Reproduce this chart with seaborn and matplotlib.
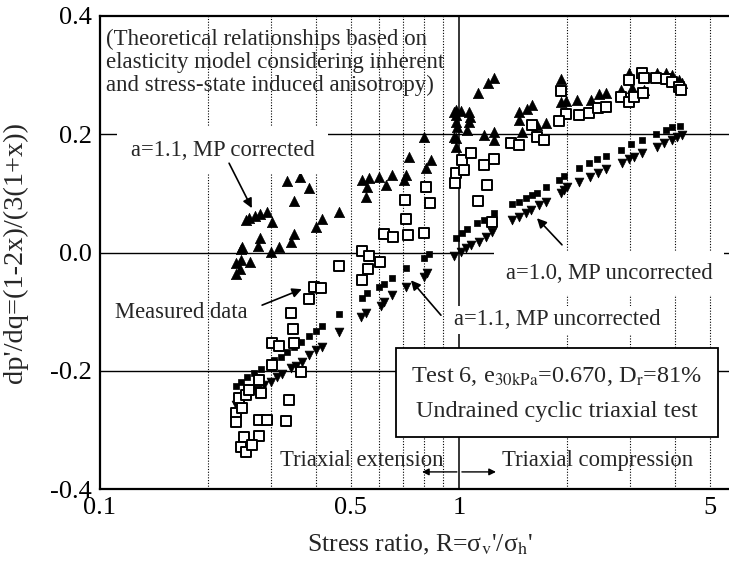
import matplotlib
matplotlib.use("Agg")
from matplotlib import pyplot as plt
from matplotlib.patches import Rectangle
from matplotlib.ticker import FixedLocator, NullFormatter, MultipleLocator
import seaborn as sns
import pandas as pd

# a=1.1, MP corrected (filled up-triangles)
up_x = [0.239, 0.239, 0.247, 0.245, 0.262, 0.249, 0.247, 0.255, 0.260, 0.270,
        0.279, 0.292, 0.301, 0.275, 0.279, 0.299, 0.315, 0.340, 0.347, 0.400,
        0.415, 0.463, 0.332, 0.361, 0.382, 0.347, 0.537, 0.551, 0.554, 0.562,
        0.599, 0.626, 0.651, 0.712, 0.703, 0.726, 0.809, 0.836, 0.799, 0.968,
        0.981, 0.968, 0.981, 0.981, 1.013, 1.066, 1.073, 1.066, 0.981, 0.987,
        1.052, 0.981, 1.174, 1.251, 1.251, 1.130, 1.205, 1.251, 1.469, 1.469,
        1.546, 1.597, 1.497, 1.649, 1.747, 1.923, 1.923, 1.987, 2.131, 2.331,
        2.455, 2.566, 2.826, 2.977, 3.034, 3.275, 3.213, 3.562, 3.776, 3.919,
        4.101, 4.180]
up_y = [-0.018, -0.036, -0.013, -0.028, -0.016, 0.009, 0.006, 0.055, 0.058, 0.062,
        0.065, 0.068, 0.052, 0.011, 0.025, 0.001, 0.009, 0.018, 0.031, 0.043,
        0.057, 0.068, 0.121, 0.128, 0.109, 0.087, 0.123, 0.094, 0.111, 0.126,
        0.128, 0.114, 0.131, 0.131, 0.123, 0.162, 0.143, 0.156, 0.195, 0.237,
        0.221, 0.195, 0.178, 0.241, 0.239, 0.237, 0.229, 0.221, 0.233, 0.212,
        0.207, 0.194, 0.199, 0.204, 0.190, 0.270, 0.287, 0.295, 0.237, 0.224,
        0.243, 0.249, 0.204, 0.216, 0.219, 0.293, 0.255, 0.256, 0.258, 0.258,
        0.268, 0.270, 0.275, 0.304, 0.278, 0.275, 0.304, 0.304, 0.304, 0.300,
        0.292, 0.287]

# measured data (open squares)
meas_x = [0.239, 0.239, 0.249, 0.244, 0.255, 0.260, 0.277, 0.281, 0.301, 0.301,
          0.315, 0.347, 0.345, 0.340, 0.382, 0.394, 0.413, 0.363, 0.336, 0.330,
          0.277, 0.292, 0.252, 0.277, 0.247, 0.255, 0.265,
          0.463, 0.537, 0.562, 0.602, 0.558, 0.537, 0.618, 0.655, 0.721, 0.799,
          0.712, 0.707, 0.830, 0.809, 0.975, 0.981, 1.033, 1.019, 1.080, 1.174,
          1.251, 1.197, 1.130, 1.236, 1.396, 1.469, 1.597, 1.649, 1.725, 1.923,
          1.987, 1.898, 2.158, 2.301, 2.439, 2.566, 2.826, 2.977, 3.071, 3.258,
          2.977, 3.236, 3.275, 3.537, 3.776, 3.919, 4.101, 4.150]
meas_y = [-0.271, -0.287, -0.263, -0.246, -0.241, -0.233, -0.216, -0.238, -0.190, -0.153,
          -0.158, -0.153, -0.129, -0.102, -0.079, -0.058, -0.060, -0.202, -0.249, -0.285,
          -0.283, -0.283, -0.312, -0.310, -0.329, -0.337, -0.326,
          -0.023, 0.003, -0.006, -0.016, -0.028, -0.047, 0.031, 0.026, 0.030, 0.033,
          0.057, 0.089, 0.084, 0.111, 0.118, 0.134, 0.140, 0.156, 0.168, 0.148,
          0.158, 0.114, 0.087, 0.052, 0.185, 0.182, 0.216, 0.195, 0.190, 0.273,
          0.234, 0.222, 0.233, 0.236, 0.244, 0.246, 0.263, 0.255, 0.263, 0.270,
          0.292, 0.304, 0.295, 0.295, 0.293, 0.288, 0.280, 0.275]

# a=1.0, MP uncorrected (small filled squares)
sq_x = [0.239, 0.247, 0.257, 0.269, 0.281, 0.296, 0.306, 0.319, 0.332, 0.347,
        0.363, 0.382, 0.400, 0.415, 0.463, 0.537, 0.554, 0.599, 0.618, 0.651,
        0.712, 0.799, 0.825, 0.981, 1.019, 1.052, 1.122, 1.174, 1.251, 1.405,
        1.469, 1.537, 1.597, 1.649, 1.747, 1.898, 1.961, 2.158, 2.301, 2.424,
        2.566, 2.826, 3.013, 3.236, 3.538, 3.776, 3.919, 4.127]
sq_y = [-0.226, -0.219, -0.211, -0.204, -0.197, -0.187, -0.182, -0.177, -0.168, -0.160,
        -0.151, -0.141, -0.133, -0.124, -0.104, -0.077, -0.068, -0.058, -0.053, -0.043,
        -0.026, -0.009, -0.003, 0.025, 0.033, 0.040, 0.050, 0.055, 0.067, 0.082,
        0.085, 0.092, 0.097, 0.101, 0.111, 0.123, 0.129, 0.143, 0.151, 0.158,
        0.163, 0.173, 0.184, 0.190, 0.200, 0.207, 0.212, 0.214]

# a=1.1, MP uncorrected (filled down-triangles)
dn_x = [0.239, 0.247, 0.260, 0.274, 0.286, 0.299, 0.311, 0.321, 0.340, 0.351,
        0.365, 0.382, 0.400, 0.415, 0.463, 0.533, 0.551, 0.607, 0.618, 0.651,
        0.712, 0.799, 0.814, 0.968, 1.013, 1.046, 1.080, 1.137, 1.189, 1.236,
        1.405, 1.469, 1.537, 1.587, 1.670, 1.747, 1.923, 1.961, 2.000, 2.158,
        2.317, 2.439, 2.566, 2.845, 2.977, 3.071, 3.236, 3.562, 3.726, 3.919,
        4.048, 4.180]
dn_y = [-0.258, -0.249, -0.241, -0.233, -0.224, -0.219, -0.211, -0.205, -0.195, -0.192,
        -0.185, -0.173, -0.165, -0.160, -0.135, -0.109, -0.102, -0.090, -0.084, -0.072,
        -0.058, -0.041, -0.035, -0.006, 0.001, 0.008, 0.013, 0.018, 0.026, 0.035,
        0.055, 0.060, 0.067, 0.072, 0.080, 0.085, 0.101, 0.106, 0.111, 0.119,
        0.128, 0.134, 0.141, 0.151, 0.158, 0.162, 0.168, 0.178, 0.185, 0.190,
        0.195, 0.199]

x_ticks = [0.1, 0.5, 1, 5]
x_tick_labels = ["0.1", "0.5", "1", "5"]
x_grid = [0.2, 0.3, 0.4, 0.5, 0.6, 0.7, 0.8, 0.9, 2, 3, 4, 5]

sns.set_style("white")
plt.rcParams["font.family"] = ["Liberation Serif", "DejaVu Serif"]
plt.rcParams["mathtext.fontset"] = "stix"

fig = plt.figure(figsize=(7.29, 5.70), dpi=100)
ax = fig.add_axes([0.137, 0.142, 0.863, 0.830])
ax.set_xscale("log")
ax.set_xlim(0.1, 5.65)
ax.set_ylim(-0.4, 0.4)

# reference lines
for gx in x_grid:
    ax.axvline(gx, color="black", ls=(0, (1, 1.5)), lw=0.8, zorder=1)
ax.axvline(1, color="black", lw=1.1, zorder=1)
for gy in [-0.2, 0.0, 0.2]:
    ax.axhline(gy, color="black", lw=1.0, zorder=1)

sns.scatterplot(data=pd.DataFrame({"R": up_x, "d": up_y}), x="R", y="d", ax=ax,
                marker="^", s=55, color="black", edgecolor="black", linewidth=0.5, zorder=3)
sns.scatterplot(data=pd.DataFrame({"R": sq_x, "d": sq_y}), x="R", y="d", ax=ax,
                marker="s", s=22, color="black", edgecolor="black", linewidth=0.5, zorder=3)
sns.scatterplot(data=pd.DataFrame({"R": dn_x, "d": dn_y}), x="R", y="d", ax=ax,
                marker="v", s=40, color="black", edgecolor="black", linewidth=0.5, zorder=3)
sns.scatterplot(data=pd.DataFrame({"R": meas_x, "d": meas_y}), x="R", y="d", ax=ax,
                marker="s", s=62, color="white", edgecolor="black", linewidth=1.4, zorder=4)

# axes styling
for side in ["left", "top", "bottom"]:
    ax.spines[side].set_linewidth(1.6)
    ax.spines[side].set_color("black")
ax.spines["right"].set_visible(False)

ax.xaxis.set_major_locator(FixedLocator(x_ticks))
ax.set_xticklabels(x_tick_labels)
ax.xaxis.set_minor_locator(FixedLocator([0.2, 0.3, 0.4, 0.6, 0.7, 0.8, 0.9, 2, 3, 4]))
ax.xaxis.set_minor_formatter(NullFormatter())
ax.yaxis.set_major_locator(MultipleLocator(0.2))
ax.yaxis.set_minor_locator(MultipleLocator(0.1))
ax.set_yticklabels([f"{v:.1f}" for v in ax.get_yticks()])
ax.tick_params(which="both", direction="in", labelsize=19, top=False, right=False,
               width=1.0, colors="black")
ax.tick_params(which="major", length=7, pad=6)
ax.tick_params(which="minor", length=6)

ax.set_xlabel(r"Stress ratio, R=σ$_\mathrm{v}$'/σ$_\mathrm{h}$'", fontsize=18.5)
ax.set_ylabel("dp'/dq=(1-2x)/(3(1+x))", fontsize=20.5)
ax.xaxis.set_label_coords(0.509, -0.093)
ax.yaxis.set_label_coords(-0.114, 0.5)

# annotations
ax.text(0.104, 0.378,
        "(Theoretical relationships based on\nelasticity model considering inherent\nand stress-state induced anisotropy)",
        fontsize=16.5, ha="left", va="top", linespacing=1.12, zorder=5)

arrow = dict(arrowstyle="-|>", color="black", lw=1.2, mutation_scale=14, shrinkA=0, shrinkB=0)
ax.text(0.220, 0.173, "a=1.1, MP corrected", fontsize=16.3, ha="center", va="center",
        bbox=dict(boxstyle="square,pad=0.6", fc="white", ec="none"), zorder=5)
ax.annotate("", xy=(0.265, 0.075), xytext=(0.229, 0.151), arrowprops=arrow, zorder=5)

ax.text(0.169, -0.101, "Measured data", fontsize=16.3, ha="center", va="center", zorder=5)
ax.annotate("", xy=(0.365, -0.062), xytext=(0.283, -0.089), arrowprops=arrow, zorder=5)

ax.text(1.875, -0.114, "a=1.1, MP uncorrected", fontsize=16.3, ha="center", va="center",
        bbox=dict(boxstyle="square,pad=0.15", fc="white", ec="none"), zorder=5)
ax.annotate("", xy=(0.735, -0.047), xytext=(0.891, -0.106), arrowprops=arrow, zorder=5)

ax.text(2.617, -0.035, "a=1.0, MP uncorrected", fontsize=16.3, ha="center", va="center",
        bbox=dict(boxstyle="square,pad=0.5", fc="white", ec="none"), zorder=5)
ax.annotate("", xy=(1.649, 0.058), xytext=(1.936, 0.013), arrowprops=arrow, zorder=5)

ax.text(0.908, -0.351, "Triaxial extension", fontsize=16.3, ha="right", va="center", zorder=5)
ax.text(1.318, -0.351, "Triaxial compression", fontsize=16.3, ha="left", va="center", zorder=5)
small_arrow = dict(arrowstyle="-|>", color="black", lw=1.0, mutation_scale=10, shrinkA=0, shrinkB=0)
ax.annotate("", xy=(0.789, -0.371), xytext=(0.987, -0.371), arrowprops=small_arrow, zorder=5)
ax.annotate("", xy=(1.268, -0.371), xytext=(1.019, -0.371), arrowprops=small_arrow, zorder=5)

# info box
ax.add_patch(Rectangle((0.4706, 0.110), 0.512, 0.188, transform=ax.transAxes,
                       facecolor="white", edgecolor="black", lw=1.3, zorder=6))
ax.text(0.7266, 0.237, r"Test 6, e$_{\mathrm{30kPa}}$=0.670, D$_{\mathrm{r}}$=81%",
        transform=ax.transAxes, fontsize=17.5, ha="center", va="center", zorder=7)
ax.text(0.7266, 0.163, "Undrained cyclic triaxial test",
        transform=ax.transAxes, fontsize=17.5, ha="center", va="center", zorder=7)

fig.savefig("out.png", dpi=100)
